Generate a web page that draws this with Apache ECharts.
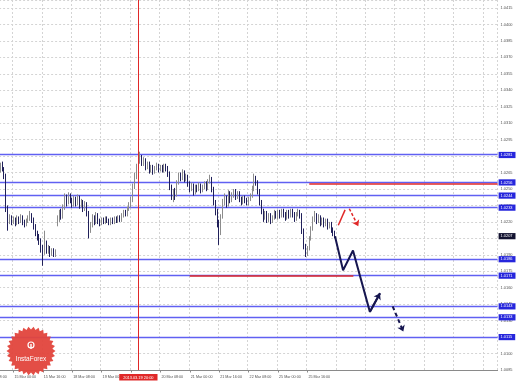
<!DOCTYPE html>
<html><head><meta charset="utf-8">
<script src="https://cdn.jsdelivr.net/npm/echarts@6/dist/echarts.min.js"></script>
<style>html,body{margin:0;padding:0;background:#fff}#c{width:519px;height:385px}</style>
</head><body><div id="c"></div>
<script>
// ---- data ----
const firstBar = 9; // first visible hourly bar index in the timeline
const opens = [
1.0268,1.0272,1.0268,1.0262,1.0232,1.0221,1.0224,1.0220,1.0222,1.0219,1.0223,1.0221,1.0224,1.0220,1.0218,1.0221,1.0223,1.0226,1.0222,1.0216,1.0210,1.0206,1.0203,1.0197,1.0192,1.0200,1.0194,1.0196,1.0191,1.0194,1.0190,
1.0219,1.0222,1.0229,1.0225,1.0233,1.0242,1.0238,1.0244,1.0240,1.0236,1.0241,1.0237,1.0242,1.0235,1.0238,1.0232,1.0236,1.0228,1.0212,1.0218,1.0224,1.0220,1.0226,1.0221,1.0219,1.0222,1.0220,1.0223,1.0221,1.0219,1.0222,1.0220,1.0223,1.0221,1.0224,
1.0222,1.0226,1.0229,1.0227,1.0232,1.0235,1.0240,1.0252,1.0262,1.0270,1.0277,1.0279,1.0274,1.0276,1.0270,1.0273,1.0267,1.0270,1.0266,1.0269,1.0271,1.0268,1.0270,1.0267,1.0271,1.0269,1.0264,1.0252,1.0244,1.0248,1.0245,1.0256,1.0263,1.0260,
1.0266,1.0259,1.0262,1.0255,1.0250,1.0254,1.0247,1.0252,1.0250,1.0254,1.0249,1.0252,1.0255,1.0251,1.0257,1.0260,1.0250,1.0238,1.0230,1.0220,1.0212,1.0225,1.0238,1.0242,1.0236,1.0246,1.0240,1.0245,1.0248,1.0243,1.0246,1.0241,1.0238,1.0242,
1.0240,1.0237,1.0241,1.0244,1.0250,1.0260,1.0256,1.0248,1.0238,1.0230,1.0224,1.0228,1.0222,1.0226,1.0221,1.0224,1.0228,1.0225,1.0229,1.0226,1.0230,1.0227,1.0224,1.0229,1.0226,1.0230,1.0227,1.0223,1.0227,1.0229,
1.0226,1.0212,1.0198,1.0192,1.0196,1.0205,1.0214,1.0222,1.0226,1.0221,1.0224,1.0219,1.0222,1.0218,1.0221,1.0216,1.0218,1.0213,1.0210
];
const closes = [
1.0272,1.0268,1.0262,1.0232,1.0221,1.0224,1.0220,1.0222,1.0219,1.0223,1.0221,1.0224,1.0220,1.0218,1.0221,1.0223,1.0226,1.0222,1.0216,1.0210,1.0206,1.0203,1.0197,1.0192,1.0200,1.0194,1.0196,1.0191,1.0194,1.0190,1.0193,
1.0222,1.0229,1.0225,1.0233,1.0242,1.0238,1.0244,1.0240,1.0236,1.0241,1.0237,1.0242,1.0235,1.0238,1.0232,1.0236,1.0228,1.0212,1.0218,1.0224,1.0220,1.0226,1.0221,1.0219,1.0222,1.0220,1.0223,1.0221,1.0219,1.0222,1.0220,1.0223,1.0221,1.0224,1.0222,
1.0226,1.0229,1.0227,1.0232,1.0235,1.0240,1.0252,1.0262,1.0270,1.0277,1.0279,1.0274,1.0276,1.0270,1.0273,1.0267,1.0270,1.0266,1.0269,1.0271,1.0268,1.0270,1.0267,1.0271,1.0269,1.0264,1.0252,1.0244,1.0248,1.0245,1.0256,1.0263,1.0260,1.0266,
1.0259,1.0262,1.0255,1.0250,1.0254,1.0247,1.0252,1.0250,1.0254,1.0249,1.0252,1.0255,1.0251,1.0257,1.0260,1.0250,1.0238,1.0230,1.0220,1.0212,1.0225,1.0238,1.0242,1.0236,1.0246,1.0240,1.0245,1.0248,1.0243,1.0246,1.0241,1.0238,1.0242,1.0240,
1.0237,1.0241,1.0244,1.0250,1.0260,1.0256,1.0248,1.0238,1.0230,1.0224,1.0228,1.0222,1.0226,1.0221,1.0224,1.0228,1.0225,1.0229,1.0226,1.0230,1.0227,1.0224,1.0229,1.0226,1.0230,1.0227,1.0223,1.0227,1.0229,1.0226,
1.0212,1.0198,1.0192,1.0196,1.0205,1.0214,1.0222,1.0226,1.0221,1.0224,1.0219,1.0222,1.0218,1.0221,1.0216,1.0218,1.0213,1.0210,1.0207
];
const lows = [
1.0265,1.0266,1.0259,1.0229,1.0212,1.0218,1.0217,1.0218,1.0216,1.0217,1.0218,1.0219,1.0217,1.0215,1.0216,1.0219,1.0221,1.0219,1.0213,1.0207,1.0203,1.0199,1.0192,1.0180,1.0190,1.0191,1.0191,1.0188,1.0189,1.0188,1.0188,
1.0216,1.0220,1.0222,1.0223,1.0231,1.0234,1.0236,1.0237,1.0233,1.0234,1.0234,1.0235,1.0232,1.0233,1.0229,1.0230,1.0225,1.0205,1.0210,1.0215,1.0217,1.0218,1.0218,1.0216,1.0217,1.0218,1.0218,1.0219,1.0217,1.0217,1.0218,1.0218,1.0219,1.0219,1.0220,
1.0220,1.0224,1.0225,1.0225,1.0230,1.0233,1.0238,1.0250,1.0259,1.0267,1.0273,1.0271,1.0271,1.0267,1.0268,1.0264,1.0265,1.0263,1.0264,1.0267,1.0265,1.0266,1.0265,1.0265,1.0266,1.0261,1.0249,1.0240,1.0238,1.0240,1.0243,1.0254,1.0257,1.0258,
1.0256,1.0257,1.0252,1.0247,1.0248,1.0244,1.0245,1.0247,1.0248,1.0246,1.0247,1.0250,1.0248,1.0249,1.0255,1.0247,1.0235,1.0226,1.0215,1.0199,1.0208,1.0223,1.0235,1.0233,1.0234,1.0237,1.0238,1.0242,1.0240,1.0241,1.0238,1.0235,1.0236,1.0237,
1.0235,1.0235,1.0239,1.0242,1.0248,1.0253,1.0245,1.0235,1.0227,1.0220,1.0222,1.0219,1.0220,1.0218,1.0219,1.0222,1.0223,1.0222,1.0223,1.0224,1.0224,1.0221,1.0222,1.0223,1.0224,1.0224,1.0220,1.0221,1.0225,1.0223,
1.0209,1.0195,1.0188,1.0189,1.0194,1.0203,1.0212,1.0220,1.0218,1.0219,1.0216,1.0217,1.0215,1.0216,1.0213,1.0214,1.0210,1.0207,1.0205
];
const highs = [
1.0274,1.0275,1.0270,1.0264,1.0235,1.0227,1.0226,1.0225,1.0224,1.0226,1.0225,1.0227,1.0226,1.0222,1.0223,1.0226,1.0230,1.0228,1.0224,1.0218,1.0212,1.0209,1.0205,1.0199,1.0212,1.0203,1.0199,1.0198,1.0196,1.0196,1.0195,
1.0226,1.0231,1.0232,1.0236,1.0246,1.0245,1.0247,1.0246,1.0242,1.0244,1.0243,1.0245,1.0244,1.0241,1.0240,1.0239,1.0238,1.0230,1.0220,1.0227,1.0226,1.0229,1.0228,1.0223,1.0224,1.0224,1.0225,1.0225,1.0223,1.0224,1.0224,1.0225,1.0225,1.0226,1.0226,
1.0228,1.0231,1.0231,1.0234,1.0238,1.0243,1.0255,1.0265,1.0273,1.0280,1.0284,1.0281,1.0279,1.0278,1.0275,1.0275,1.0272,1.0272,1.0271,1.0274,1.0273,1.0272,1.0272,1.0273,1.0273,1.0271,1.0266,1.0254,1.0250,1.0251,1.0258,1.0265,1.0265,1.0268,
1.0267,1.0264,1.0263,1.0257,1.0256,1.0255,1.0254,1.0254,1.0256,1.0255,1.0254,1.0257,1.0257,1.0259,1.0263,1.0261,1.0252,1.0240,1.0232,1.0222,1.0227,1.0241,1.0246,1.0244,1.0249,1.0248,1.0247,1.0250,1.0250,1.0248,1.0248,1.0243,1.0244,1.0244,
1.0242,1.0243,1.0246,1.0253,1.0264,1.0262,1.0258,1.0250,1.0240,1.0232,1.0230,1.0230,1.0228,1.0228,1.0226,1.0231,1.0230,1.0231,1.0231,1.0232,1.0232,1.0229,1.0231,1.0231,1.0232,1.0232,1.0229,1.0229,1.0232,1.0231,
1.0228,1.0214,1.0200,1.0198,1.0207,1.0216,1.0225,1.0230,1.0228,1.0227,1.0226,1.0224,1.0224,1.0223,1.0223,1.0220,1.0220,1.0215,1.0212
];
const tickLabels = ['14 Mar 08:00','15 Mar 00:00','15 Mar 16:00','18 Mar 08:00','19 Mar 00:00','19 Mar 16:00',
  '20 Mar 08:00','21 Mar 00:00','21 Mar 16:00','22 Mar 08:00','25 Mar 00:00','25 Mar 16:00'];
const yTickStart = 1.0085, yTickStep = 0.0015, yTop = 1.04223;
const blueLevels = [1.0281, 1.0256, 1.0244, 1.0233, 1.0186, 1.0171, 1.0143, 1.0133, 1.0115];
const currentPrice = 1.0207;
const markerBar = 84;                       // red vertical line bar index
const markerText = '2013.03.19 20:00';
const redUpper = [[177, 1.0255], [279.5, 1.0255]];
const redLower = [[112, 1.0171], [201, 1.0171]];
const projPath = [[191, 1.0207], [195.4, 1.0176], [200.8, 1.0194], [210, 1.0138], [215.5, 1.0155]];
const projDashed = [[222.4, 1.0143], [228.2, 1.0120]];
const redUp = [[192.8, 1.0217], [196.5, 1.0231]];
const redDown = [[198.8, 1.0232], [203.7, 1.0216]];

// ---- hourly timeline (weekends skipped) ----
const N = 280;
const months = ['Jan','Feb','Mar','Apr','May','Jun','Jul','Aug','Sep','Oct','Nov','Dec'];
const timeline = [];
let t = Date.UTC(2013, 2, 14, 8);
while (timeline.length < N) {
  const d = new Date(t);
  const wd = d.getUTCDay();
  if (wd !== 0 && wd !== 6) {
    const h = d.getUTCHours();
    timeline.push(d.getUTCDate() + ' ' + months[d.getUTCMonth()] + ' ' + (h < 10 ? '0' : '') + h + ':00');
  }
  t += 3600000;
}
const candleData = timeline.map((_, i) => {
  const k = i - firstBar;
  return (k >= 0 && k < opens.length) ? [opens[k], closes[k], lows[k], highs[k]] : '-';
});

const FONT = 'Liberation Sans';
const chart = echarts.init(document.getElementById('c'), null, {renderer: 'canvas'});

const hidden = {color: 'rgba(0,0,0,0)', width: 1, opacity: 1};
const boxLabel = (txt, bg) => ({show: true, position: 'end', distance: 1, formatter: txt, backgroundColor: bg,
  color: '#fff', fontSize: 3.9, fontFamily: FONT, padding: [1.2, 3, 1, 2], opacity: 1});
const levelLabels = blueLevels.map(v => ({yAxis: v, lineStyle: hidden, label: boxLabel(v.toFixed(4), '#2626dc')}));
levelLabels.push({yAxis: currentPrice, lineStyle: hidden, label: boxLabel(currentPrice.toFixed(4), '#121230')});

function seg(a, b, style, arrow) {
  return [{coord: a, symbol: 'none', lineStyle: style},
          {coord: b, symbol: arrow ? 'arrow' : 'none', symbolSize: arrow ? 6 : 0}];
}
const navy = '#161650';
const red = '#e02828';

// ---- InstaForex logo ----
const star = [];
for (let k = 0; k < 60; k++) {
  const r = k % 2 ? 21.5 : 24.5;
  const a = Math.PI * 2 * k / 60;
  star.push([31 + r * Math.cos(a), 351 + r * Math.sin(a)]);
}

chart.setOption({
  animation: false,
  backgroundColor: '#ffffff',
  grid: {left: -16.9, top: 0, width: 514.5, height: 370, containLabel: false, outerBoundsMode: 'none'},
  xAxis: [{
    type: 'category', data: timeline, boundaryGap: true,
    axisLine: {show: true, lineStyle: {color: '#8a8a8a', width: 1}},
    axisTick: {show: true, alignWithLabel: true, length: 2.5, interval: (i, v) => tickLabels.includes(v), lineStyle: {color: '#8a8a8a'}},
    axisLabel: {interval: (i, v) => tickLabels.includes(v), align: 'left', fontSize: 3.7, color: '#505050',
      fontFamily: FONT, margin: 5, padding: [0, 0, 0, 1]},
    splitLine: {show: true, interval: (i) => i % 16 === 0, lineStyle: {color: '#d4d4d4', width: 1, type: [2, 2]}}
  }, {
    type: 'value', min: -0.5, max: N - 0.5, show: false
  }],
  yAxis: {
    type: 'value', position: 'right', min: yTickStart, max: yTop, interval: yTickStep,
    axisLine: {show: true, lineStyle: {color: '#8a8a8a', width: 1}},
    axisTick: {show: true, length: 2, lineStyle: {color: '#8a8a8a'}},
    axisLabel: {fontSize: 3.9, color: '#505050', fontFamily: FONT, margin: 3, showMaxLabel: false,
      formatter: v => v.toFixed(4)},
    splitLine: {show: true, lineStyle: {color: '#d4d4d4', width: 1, type: [2, 2]}}
  },
  series: [{
    // blue support/resistance levels, pixel-snapped
    type: 'custom', xAxisIndex: 1, yAxisIndex: 0, z: 1, silent: true, clip: false,
    data: blueLevels.map(v => [0, v]),
    encode: {x: 0, y: 1},
    renderItem: (params, api) => {
      const y = api.coord([0, api.value(1)])[1];
      const ys = Math.round(y - 0.5) + 0.5;
      const cs = params.coordSys;
      return {type: 'line', shape: {x1: 0, y1: ys, x2: cs.x + cs.width, y2: ys},
        style: {stroke: '#6060f2', lineWidth: 1.3}};
    }
  }, {
    // price-scale tags for the levels
    type: 'line', xAxisIndex: 1, yAxisIndex: 0, data: [], symbol: 'none', z: 3,
    markLine: {silent: true, precision: 4, symbol: ['none', 'none'], animation: false, data: levelLabels}
  }, {
    type: 'candlestick', xAxisIndex: 0, yAxisIndex: 0, data: candleData, barWidth: 1, z: 2,
    itemStyle: {color: '#b4b4b4', color0: '#20205a', borderColor: '#8c8c8c', borderColor0: '#20205a', borderWidth: 1}
  }, {
    type: 'line', xAxisIndex: 1, yAxisIndex: 0, data: projPath, symbol: 'none', z: 6,
    lineStyle: {color: navy, width: 2},
    markLine: {
      silent: true, precision: 4, symbol: ['none', 'none'], animation: false, label: {show: false},
      data: [
        {xAxis: markerBar, lineStyle: {color: red, width: 1, type: 'solid'},
          label: {show: true, position: 'start', distance: 4, formatter: markerText, backgroundColor: red,
            color: '#fff', fontSize: 3.9, fontFamily: FONT, padding: [1.5, 4, 1, 4]}},
        seg(redUpper[0], redUpper[1], {color: red, width: 1.5, type: 'solid'}, false),
        seg(redLower[0], redLower[1], {color: red, width: 1.5, type: 'solid'}, false),
        seg(projPath[3], projPath[4], {color: navy, width: 2, type: 'solid'}, true),
        seg(projDashed[0], projDashed[1], {color: navy, width: 2, type: [4, 3]}, true),
        seg(redUp[0], redUp[1], {color: red, width: 1.5, type: 'solid'}, false),
        seg(redDown[0], redDown[1], {color: red, width: 1.5, type: [3, 2]}, true)
      ]
    }
  }],
  graphic: [
    {type: 'polygon', shape: {points: star}, style: {fill: '#e2443c', opacity: 0.95}, z: 100},
    {type: 'circle', shape: {cx: 31, cy: 345, r: 3}, style: {fill: 'none', stroke: '#fff', lineWidth: 1.2}, z: 101},
    {type: 'rect', shape: {x: 30.3, y: 344, width: 1.4, height: 5}, style: {fill: '#fff'}, z: 101},
    {type: 'text', x: 31, y: 359, style: {text: 'InstaForex', fill: '#fff', font: '6.5px "Liberation Sans"',
      textAlign: 'center', textVerticalAlign: 'middle'}, z: 101}
  ]
});
</script>
</body></html>
